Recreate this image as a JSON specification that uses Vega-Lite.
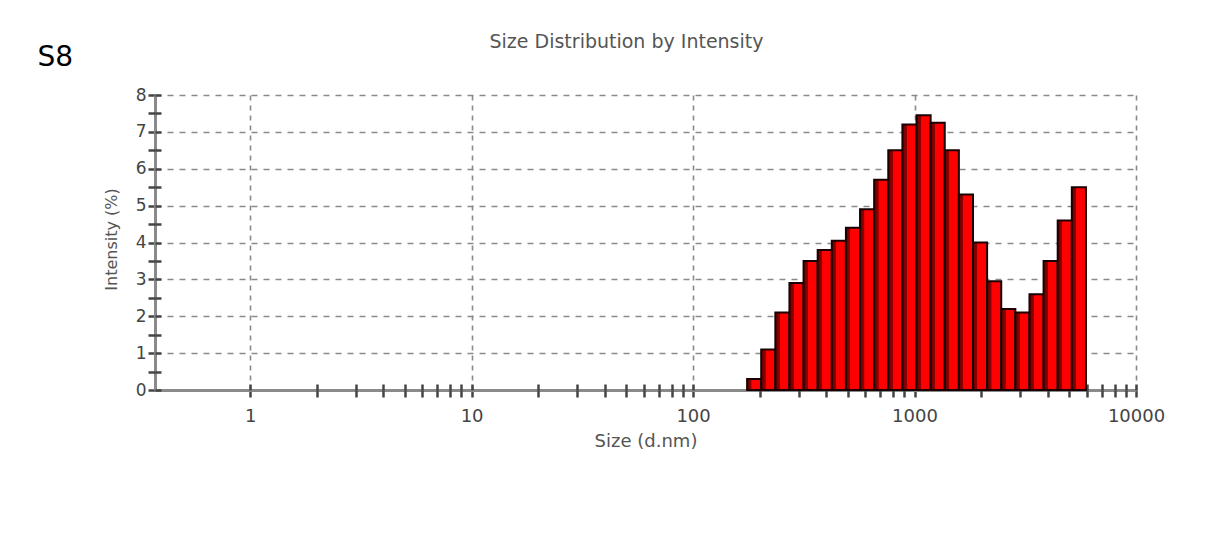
{
  "$schema": "https://vega.github.io/schema/vega-lite/v6.json",
  "width": 981,
  "height": 295,
  "autosize": {"type": "none"},
  "padding": {"left": 155, "top": 95, "right": 91, "bottom": 144},
  "background": "white",
  "config": {"view": {"stroke": null}, "font": "DejaVu Sans"},
  "data": {
    "values": [
      {"start": 175.4, "end": 203.1, "pct": 0.3},
      {"start": 203.1, "end": 235.3, "pct": 1.1},
      {"start": 235.3, "end": 272.4, "pct": 2.1},
      {"start": 272.4, "end": 315.5, "pct": 2.9},
      {"start": 315.5, "end": 365.4, "pct": 3.5},
      {"start": 365.4, "end": 423.2, "pct": 3.8},
      {"start": 423.2, "end": 490.1, "pct": 4.05},
      {"start": 490.1, "end": 567.5, "pct": 4.4},
      {"start": 567.5, "end": 657.3, "pct": 4.9},
      {"start": 657.3, "end": 761.2, "pct": 5.7},
      {"start": 761.2, "end": 881.6, "pct": 6.5},
      {"start": 881.6, "end": 1020.9, "pct": 7.2},
      {"start": 1020.9, "end": 1182.3, "pct": 7.45},
      {"start": 1182.3, "end": 1369.2, "pct": 7.25},
      {"start": 1369.2, "end": 1585.8, "pct": 6.5},
      {"start": 1585.8, "end": 1836.5, "pct": 5.3},
      {"start": 1836.5, "end": 2126.8, "pct": 4.0},
      {"start": 2126.8, "end": 2463.1, "pct": 2.95},
      {"start": 2463.1, "end": 2852.5, "pct": 2.2},
      {"start": 2852.5, "end": 3303.6, "pct": 2.1},
      {"start": 3303.6, "end": 3825.9, "pct": 2.6},
      {"start": 3825.9, "end": 4430.8, "pct": 3.5},
      {"start": 4430.8, "end": 5131.3, "pct": 4.6},
      {"start": 5131.3, "end": 5943.0, "pct": 5.5}
    ]
  },
  "layer": [
    {
      "mark": {
        "type": "bar",
        "fill": {
          "gradient": "linear", "x1": 0, "y1": 0, "x2": 1, "y2": 0,
          "stops": [
            {"offset": 0, "color": "#6e0000"},
            {"offset": 0.3, "color": "#900000"},
            {"offset": 0.32, "color": "#ff0000"},
            {"offset": 1, "color": "#ff0000"}
          ]
        },
        "stroke": "#1a0000",
        "strokeWidth": 2
      },
      "encoding": {
        "x": {
          "field": "start", "type": "quantitative",
          "scale": {"type": "log", "domain": [0.372, 10000], "nice": false},
          "axis": {
            "orient": "bottom", "zindex": 0,
            "values": [1, 10, 100, 1000, 10000], "format": "d",
            "labelFlush": false, "labelOverlap": false, "labelBound": false,
            "labelFontSize": 18, "labelColor": "#444", "labelPadding": 10, "labelFont": "DejaVu Sans",
            "tickSize": 7, "tickColor": "#444", "tickWidth": 2.5,
            "domain": true, "domainColor": "#8a8a8a", "domainWidth": 3,
            "grid": true, "gridColor": "#8a8a8a", "gridWidth": 1.6, "gridDash": [5, 5],
            "title": "Size (d.nm)", "titleFontSize": 18, "titleFontWeight": "normal", "titleColor": "#555",
            "titleFont": "DejaVu Sans", "titleBaseline": "top", "titleY": 42
          }
        },
        "x2": {"field": "end"},
        "y": {
          "field": "pct", "type": "quantitative",
          "scale": {"domain": [0, 8], "nice": false},
          "axis": {
            "orient": "left", "zindex": 0,
            "values": [0, 1, 2, 3, 4, 5, 6, 7, 8],
            "labelFontSize": 17, "labelColor": "#444", "labelPadding": 2, "labelFont": "DejaVu Sans",
            "tickSize": 7, "tickColor": "#444", "tickWidth": 2.5,
            "domain": true, "domainColor": "#8a8a8a", "domainWidth": 3,
            "grid": true, "gridColor": "#8a8a8a", "gridWidth": 1.6, "gridDash": [6, 6],
            "title": "Intensity (%)", "titleFontSize": 16, "titleFontWeight": "normal", "titleColor": "#555",
            "titleFont": "DejaVu Sans", "titleBaseline": "middle", "titleX": -44, "titleY": 144
          }
        },
        "y2": {"datum": 0}
      }
    },
    {
      "mark": {"type": "bar", "opacity": 0},
      "encoding": {
        "x": {
          "field": "start", "type": "quantitative",
          "axis": {
            "orient": "bottom", "zindex": 0,
            "values": [2, 3, 4, 5, 6, 7, 8, 9, 20, 30, 40, 50, 60, 70, 80, 90, 200, 300, 400, 500, 600, 700, 800, 900, 2000, 3000, 4000, 5000, 6000, 7000, 8000, 9000],
            "labels": false, "domain": false, "grid": false, "title": null,
            "tickSize": 7, "tickColor": "#444", "tickWidth": 2.5
          }
        },
        "x2": {"field": "end"},
        "y": {
          "field": "pct", "type": "quantitative",
          "axis": {
            "orient": "left", "zindex": 0,
            "values": [0.5, 1.5, 2.5, 3.5, 4.5, 5.5, 6.5, 7.5],
            "labels": false, "domain": false, "grid": false, "title": null,
            "tickSize": 7, "tickColor": "#444", "tickWidth": 2.5
          }
        },
        "y2": {"datum": 0}
      }
    },
    {
      "mark": {"type": "bar", "opacity": 0},
      "encoding": {
        "x": {
          "field": "start", "type": "quantitative",
          "axis": {
            "orient": "bottom", "zindex": 0,
            "values": [1, 2, 3, 4, 5, 6, 7, 8, 9, 10, 20, 30, 40, 50, 60, 70, 80, 90, 100, 200, 300, 400, 500, 600, 700, 800, 900, 1000, 2000, 3000, 4000, 5000, 6000, 7000, 8000, 9000, 10000],
            "labels": false, "domain": false, "grid": false, "title": null,
            "tickSize": -6, "tickColor": "#444", "tickWidth": 2.5
          }
        },
        "x2": {"field": "end"},
        "y": {
          "field": "pct", "type": "quantitative",
          "axis": {
            "orient": "left", "zindex": 0,
            "values": [0, 0.5, 1, 1.5, 2, 2.5, 3, 3.5, 4, 4.5, 5, 5.5, 6, 6.5, 7, 7.5, 8],
            "labels": false, "domain": false, "grid": false,
            "tickSize": -6, "tickColor": "#444", "tickWidth": 2.5,
            "title": "S8", "titleAngle": 0, "titleFontSize": 28, "titleFontWeight": "normal",
            "titleColor": "#000", "titleFont": "DejaVu Sans", "titleAlign": "left",
            "titleBaseline": "alphabetic", "titleX": -118, "titleY": -30
          }
        },
        "y2": {"datum": 0}
      }
    },
    {
      "mark": {"type": "bar", "opacity": 0},
      "encoding": {
        "x": {
          "field": "start", "type": "quantitative",
          "axis": {
            "orient": "top", "zindex": 0,
            "labels": false, "ticks": false, "domain": false, "grid": false,
            "title": "Size Distribution by Intensity", "titleFontSize": 19, "titleFontWeight": "normal",
            "titleColor": "#555", "titleFont": "DejaVu Sans", "titleAlign": "center",
            "titleBaseline": "alphabetic", "titleX": 471, "titleY": -48
          }
        },
        "x2": {"field": "end"},
        "y": {"field": "pct", "type": "quantitative", "axis": null},
        "y2": {"datum": 0}
      }
    }
  ],
  "resolve": {"axis": {"x": "independent", "y": "independent"}}
}
